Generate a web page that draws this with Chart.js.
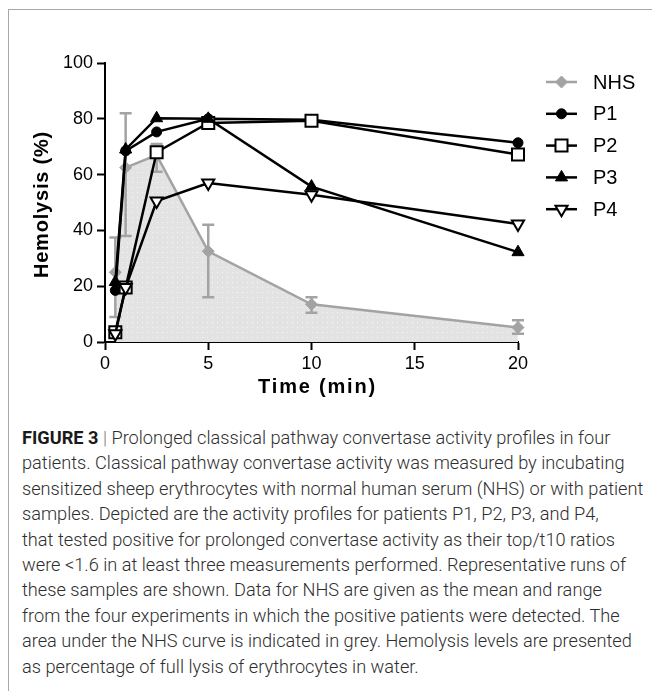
<!DOCTYPE html>
<html><head><meta charset="utf-8">
<script src="https://cdn.jsdelivr.net/npm/chart.js@4"></script>
<style>
html,body{margin:0;padding:0;background:#fff;width:652px;height:691px;overflow:hidden;}
#frame{position:absolute;left:8px;top:9px;width:700px;height:700px;border-left:1px solid #a8a8a8;border-top:1px solid #a8a8a8;}
#c{position:absolute;left:0;top:0;}
#cap{position:absolute;left:22px;top:425px;font-family:Roboto,"Liberation Sans",sans-serif;font-weight:300;font-size:18.2px;line-height:25.4px;color:#2e2e2e;white-space:nowrap;}
#cap b{font-weight:700;color:#1a1a1a}
#cap .bar{color:#777}
</style></head><body>
<div id="frame"></div>
<canvas id="c" width="652" height="400"></canvas>
<div id="cap">
<div><b>FIGURE 3</b> <span class="bar">|</span> Prolonged classical pathway convertase activity profiles in four</div>
<div>patients. Classical pathway convertase activity was measured by incubating</div>
<div>sensitized sheep erythrocytes with normal human serum (NHS) or with patient</div>
<div>samples. Depicted are the activity profiles for patients P1, P2, P3, and P4,</div>
<div>that tested positive for prolonged convertase activity as their top/t10 ratios</div>
<div>were &lt;1.6 in at least three measurements performed. Representative runs of</div>
<div>these samples are shown. Data for NHS are given as the mean and range</div>
<div>from the four experiments in which the positive patients were detected. The</div>
<div>area under the NHS curve is indicated in grey. Hemolysis levels are presented</div>
<div>as percentage of full lysis of erythrocytes in water.</div>
</div>
<script>
// ---- data ----
const times = [0.5, 1, 2.5, 5, 10, 20];
const nhsMean = [25, 62.5, 67, 32.5, 13.5, 5.2];
const nhsLow  = [9, 38, 61, 16, 10.5, 3];
const nhsHigh = [37.5, 82, 71, 42, 16, 7.8];
const p1 = [18.5, 68.5, 75.3, 80, 79.7, 71.4];
const p2 = [3.5, 19.5, 68, 78.5, 79.3, 67.2];
const p3 = [21.5, 69, 80.2, 80, 55.7, 32.2];
const p4 = [3, 19.5, 50.5, 57, 52.8, 42.3];
const seriesNames = ['NHS', 'P1', 'P2', 'P3', 'P4'];
const xTicks = [0, 5, 10, 15, 20];
const yTicks = [0, 20, 40, 60, 80, 100];
const xTitle = 'Time (min)';
const yTitle = 'Hemolysis (%)';

const GREY = '#a3a3a3';
const pts = arr => arr.map((v, i) => ({x: times[i], y: v}));

// dotted grey pattern for area under NHS
const pc = document.createElement('canvas');
pc.width = 5; pc.height = 5;
const pctx = pc.getContext('2d');
pctx.fillStyle = '#e3e3e3'; pctx.fillRect(0, 0, 5, 5);
pctx.fillStyle = '#f6f6f6'; pctx.fillRect(2, 2, 1, 1);
const ctx0 = document.getElementById('c').getContext('2d');
const pattern = ctx0.createPattern(pc, 'repeat');

const datasets = [
  {label: seriesNames[0], data: pts(nhsMean), borderColor: GREY, backgroundColor: pattern, fill: 'origin',
   borderWidth: 2.5, pointStyle: 'rectRot', pointRadius: 6, pointBackgroundColor: GREY, pointBorderColor: GREY, pointBorderWidth: 1, order: 5},
  {label: seriesNames[1], data: pts(p1), borderColor: '#000', borderWidth: 2.5, pointStyle: 'circle', pointRadius: 5,
   pointBackgroundColor: '#000', pointBorderColor: '#000', pointBorderWidth: 1, order: 4},
  {label: seriesNames[2], data: pts(p2), borderColor: '#000', borderWidth: 2.5, pointStyle: 'rect', pointRadius: 8.5,
   pointBackgroundColor: '#fff', pointBorderColor: '#000', pointBorderWidth: 2, order: 3},
  {label: seriesNames[3], data: pts(p3), borderColor: '#000', borderWidth: 2.5, pointStyle: 'triangle', pointRadius: 7,
   pointBackgroundColor: '#000', pointBorderColor: '#000', pointBorderWidth: 1, order: 2},
  {label: seriesNames[4], data: pts(p4), borderColor: '#000', borderWidth: 2.5, pointStyle: 'triangle', pointRotation: 180, pointRadius: 7,
   pointBackgroundColor: '#fff', pointBorderColor: '#000', pointBorderWidth: 2, order: 1}
];
datasets.forEach(d => { d.clip = false; d.tension = 0; });

const errorBars = {
  id: 'errorBars',
  afterDatasetDraw(chart, args) {
    if (args.index !== 0) return;
    const {ctx, scales: {x, y}} = chart;
    ctx.save();
    ctx.strokeStyle = GREY; ctx.lineWidth = 2.5;
    times.forEach((t, i) => {
      const px = x.getPixelForValue(t), lo = y.getPixelForValue(nhsLow[i]), hi = y.getPixelForValue(nhsHigh[i]);
      ctx.beginPath();
      ctx.moveTo(px, lo); ctx.lineTo(px, hi);
      ctx.moveTo(px - 6, lo); ctx.lineTo(px + 6, lo);
      ctx.moveTo(px - 6, hi); ctx.lineTo(px + 6, hi);
      ctx.stroke();
    });
    ctx.restore();
  }
};

const titles = {
  id: 'titles',
  afterDraw(chart) {
    const {ctx, chartArea: a} = chart;
    ctx.save();
    ctx.fillStyle = '#000';
    ctx.font = 'bold 20px "Liberation Sans", Arial, sans-serif';
    ctx.textAlign = 'center'; ctx.textBaseline = 'middle';
    ctx.letterSpacing = '1.8px';
    ctx.fillText(xTitle, (a.left + a.right) / 2 + 6, 387);
    ctx.letterSpacing = '0.8px';
    ctx.translate(42, (a.top + a.bottom) / 2 + 2);
    ctx.rotate(-Math.PI / 2);
    ctx.fillText(yTitle, 0, 0);
    ctx.restore();
  }
};

const legendPlugin = {
  id: 'customLegend',
  afterDraw(chart) {
    const {ctx} = chart;
    ctx.save();
    const x0 = 546, x1 = 577, tx = 593, y0 = 82, dy = 31.8;
    chart.data.datasets.forEach((d, i) => {
      const y = y0 + i * dy;
      ctx.strokeStyle = d.borderColor; ctx.lineWidth = d.borderWidth;
      ctx.beginPath(); ctx.moveTo(x0, y); ctx.lineTo(x1, y); ctx.stroke();
      ctx.fillStyle = d.pointBackgroundColor; ctx.strokeStyle = d.pointBorderColor; ctx.lineWidth = d.pointBorderWidth;
      Chart.helpers.drawPoint(ctx, {pointStyle: d.pointStyle, rotation: d.pointRotation || 0, radius: d.pointRadius, borderWidth: d.pointBorderWidth}, (x0 + x1) / 2, y);
      ctx.fillStyle = '#000';
      ctx.font = '20px "Liberation Sans", Arial, sans-serif';
      ctx.textAlign = 'left'; ctx.textBaseline = 'middle';
      ctx.fillText(d.label, tx, y + 1);
    });
    ctx.restore();
  }
};

const tickFont = {family: '"Liberation Sans", Arial, sans-serif', size: 18};
new Chart(document.getElementById('c'), {
  type: 'line',
  data: {datasets},
  options: {
    responsive: false, animation: false,
    layout: {padding: {left: 0, right: 134, top: 63, bottom: 0}},
    plugins: {legend: {display: false}, tooltip: {enabled: false}},
    scales: {
      x: {type: 'linear', min: 0, max: 20,
          afterBuildTicks: s => { s.ticks = xTicks.map(v => ({value: v})); },
          afterFit: s => { s.height = 58; },
          ticks: {font: tickFont, color: '#000', padding: 3, maxRotation: 0},
          grid: {drawOnChartArea: false, tickLength: 8, tickWidth: 2, tickColor: '#000'},
          border: {display: true, color: '#000', width: 2}},
      y: {type: 'linear', min: 0, max: 100,
          afterBuildTicks: s => { s.ticks = yTicks.map(v => ({value: v})); },
          afterFit: s => { s.width = 105; },
          ticks: {font: tickFont, color: '#000', padding: 4},
          grid: {drawOnChartArea: false, tickLength: 8, tickWidth: 2, tickColor: '#000'},
          border: {display: true, color: '#000', width: 2}}
    }
  },
  plugins: [errorBars, titles, legendPlugin]
});
</script>
</body></html>
